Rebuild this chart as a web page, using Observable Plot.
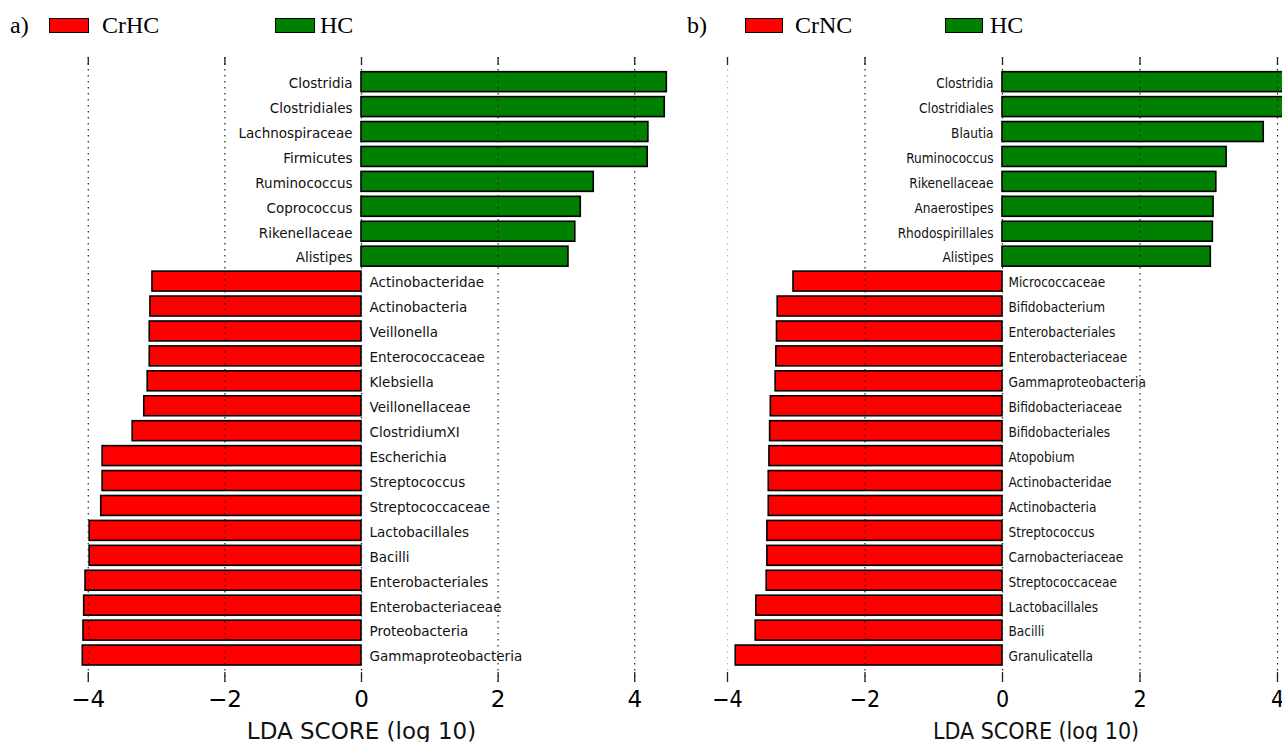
<!DOCTYPE html>
<html>
<head>
<meta charset="utf-8">
<script src="https://cdn.jsdelivr.net/npm/d3@7"></script>
<script src="https://cdn.jsdelivr.net/npm/@observablehq/plot@0.6"></script>
<style>
  html, body { margin: 0; padding: 0; background: #fff; overflow: hidden; }
  #root { position: relative; width: 1282px; height: 742px; }
  .lg { position: absolute; font-family: "Liberation Serif", serif; font-size: 24px; line-height: 24px; color: #000; white-space: nowrap; }
  .sw { position: absolute; box-sizing: border-box; border: 1.6px solid #000; height: 15px; top: 18px; }
  .panel { position: absolute; top: 0; }
</style>
</head>
<body>
<div id="root"></div>
<script>
// ---- data ----
const xTicks = [-4, -2, 0, 2, 4];
const axisTitle = "LDA SCORE (log 10)";

const aLegend = ["a)", "CrHC", "HC"];
const aNames = ["Clostridia","Clostridiales","Lachnospiraceae","Firmicutes","Ruminococcus","Coprococcus","Rikenellaceae","Alistipes","Actinobacteridae","Actinobacteria","Veillonella","Enterococcaceae","Klebsiella","Veillonellaceae","ClostridiumXI","Escherichia","Streptococcus","Streptococcaceae","Lactobacillales","Bacilli","Enterobacteriales","Enterobacteriaceae","Proteobacteria","Gammaproteobacteria"];
const aScores = [4.47,4.44,4.20,4.19,3.40,3.21,3.13,3.03,-3.06,-3.09,-3.10,-3.10,-3.13,-3.18,-3.35,-3.79,-3.79,-3.81,-3.98,-3.98,-4.04,-4.06,-4.07,-4.08];

const bLegend = ["b)", "CrNC", "HC"];
const bNames = ["Clostridia","Clostridiales","Blautia","Ruminococcus","Rikenellaceae","Anaerostipes","Rhodospirillales","Alistipes","Micrococcaceae","Bifidobacterium","Enterobacteriales","Enterobacteriaceae","Gammaproteobacteria","Bifidobacteriaceae","Bifidobacteriales","Atopobium","Actinobacteridae","Actinobacteria","Streptococcus","Carnobacteriaceae","Streptococcaceae","Lactobacillales","Bacilli","Granulicatella"];
const bScores = [4.20,4.18,3.80,3.26,3.11,3.07,3.06,3.03,-3.04,-3.27,-3.28,-3.29,-3.30,-3.37,-3.38,-3.39,-3.40,-3.40,-3.42,-3.42,-3.43,-3.58,-3.59,-3.88];

const RED = "#ff0000", GREEN = "#008000";

const root = document.getElementById("root");

function legend(labels, pos) {
  const [tag, neg, posl] = labels;
  const items = [
    ["lg", tag, pos.tag],
    ["sw", RED, pos.sw1, pos.swW],
    ["lg", neg, pos.t1],
    ["sw", GREEN, pos.sw2, pos.swW],
    ["lg", posl, pos.t2]
  ];
  for (const it of items) {
    const el = document.createElement("div");
    el.className = it[0];
    el.style.left = it[2] + "px";
    if (it[0] === "lg") { el.textContent = it[1]; el.style.top = "13px"; }
    else { el.style.background = it[1]; el.style.width = it[3] + "px"; }
    root.appendChild(el);
  }
}

const fmt = d => d < 0 ? "\u2212" + Math.abs(d) : String(d);

function panel(names, scores, o) {
  const rows = names.map((name, i) => ({name, score: scores[i]}));
  const pos = rows.filter(d => d.score > 0);
  const neg = rows.filter(d => d.score < 0);
  const top = 69.2, bottom = 667.5, H = 742;
  const gTop = 57, gBot = 682;
  const chart = Plot.plot({
    width: o.width,
    height: H,
    marginLeft: o.ml,
    marginRight: 0,
    marginTop: top,
    marginBottom: H - bottom,
    style: {fontFamily: o.font, background: "transparent", overflow: "hidden"},
    x: {domain: o.domain},
    y: {domain: names, paddingInner: 0.2, paddingOuter: 0.1, round: false, axis: null},
    marks: [
      Plot.barX(pos, {x: "score", y: "name", fill: GREEN, stroke: "#000", strokeWidth: 1.6, clip: true}),
      Plot.barX(neg, {x: "score", y: "name", fill: RED, stroke: "#000", strokeWidth: 1.6}),
      Plot.ruleX(xTicks, {x: d => d, stroke: d => (o.lightMin && d === -4) ? "#bbb" : "#222",
        strokeDasharray: "1.6,4.4", strokeWidth: 1.2, insetTop: -(top - gTop), insetBottom: -(gBot - bottom)}),
      Plot.ruleX(xTicks, {x: d => d, stroke: "#222", strokeWidth: 1.3, insetTop: -(top - gTop), insetBottom: (bottom - top) + (top - gTop) - 8}),
      Plot.ruleX(xTicks, {x: d => d, stroke: "#222", strokeWidth: 1.3, insetTop: (bottom - top) + (gBot - bottom) - 10, insetBottom: -(gBot - bottom)}),
      Plot.text(pos, {x: 0, y: "name", text: "name", textAnchor: "end", dx: o.dxPos, dy: 1.5, fontSize: o.lblSize, fill: "#111"}),
      Plot.text(neg, {x: 0, y: "name", text: "name", textAnchor: "start", dx: o.dxNeg, dy: 1.5, fontSize: o.lblSize, fill: "#111"}),
      Plot.axisX({ticks: xTicks, tickSize: 0, tickPadding: 22.5, fontSize: 23, tickFormat: fmt, label: null}),
      Plot.text([axisTitle], {frameAnchor: "bottom", lineAnchor: "bottom", dy: 71, dx: o.titleDx, fontSize: 23, fill: "#111"})
    ]
  });
  chart.classList.add("panel");
  chart.style.left = o.left + "px";
  chart.style.position = "absolute";
  chart.style.top = "0px";
  root.appendChild(chart);
}

panel(aNames, aScores, {
  left: 0, width: 700, ml: 22, domain: [-4.963, 4.963],
  font: "'DejaVu Sans', sans-serif", lblSize: 13.5, dxPos: -9, dxNeg: 8, titleDx: 0, lightMin: false
});
panel(bNames, bScores, {
  left: 680, width: 602, ml: 0, domain: [-322 / 68.75, 280 / 68.75],
  font: "'DejaVu Sans Condensed', 'DejaVu Sans', sans-serif", lblSize: 13.5, dxPos: -9, dxNeg: 6, titleDx: 54.5, lightMin: true
});

legend(aLegend, {tag: 10, sw1: 49, t1: 102, sw2: 275, t2: 320, swW: 40});
legend(bLegend, {tag: 687, sw1: 745, t1: 795, sw2: 945, t2: 990, swW: 38});
</script>
</body>
</html>
